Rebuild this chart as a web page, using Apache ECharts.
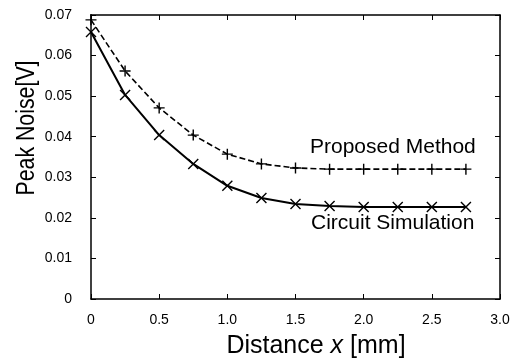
<!DOCTYPE html>
<html>
<head>
<meta charset="utf-8">
<script src="https://cdn.jsdelivr.net/npm/echarts@6/dist/echarts.min.js"></script>
<style>
  html, body { margin: 0; padding: 0; background: #fff; }
  #chart { width: 513px; height: 361px; }
</style>
</head>
<body>
<div id="chart"></div>
<script>
// distance x [mm]
const distance = [0, 0.25, 0.5, 0.75, 1.0, 1.25, 1.5, 1.75, 2.0, 2.25, 2.5, 2.75];
// peak noise [V]
const proposed = [0.0688, 0.0562, 0.0471, 0.0404, 0.0357, 0.0333, 0.0323, 0.0320, 0.0320, 0.0320, 0.0320, 0.0320];
const circuit = [0.0658, 0.0503, 0.0404, 0.0333, 0.0279, 0.0249, 0.0234, 0.0229, 0.0227, 0.0227, 0.0227, 0.0227];

const FONT = 'Liberation Sans, Arial, sans-serif';
const PLUS = 'path://M0,5L10,5M5,0L5,10';
const CROSS = 'path://M0,0L10,10M0,10L10,0';

function pairs(ys) {
    return distance.map(function (x, i) { return [x, ys[i]]; });
}

let axisLine = { onZero: false, lineStyle: { color: '#000', width: 1.5 } };
let axisTick = { inside: true, length: 5, lineStyle: { color: '#000', width: 1 } };

let option = {
    animation: false,
    backgroundColor: '#fff',
    grid: { left: 91, right: 13, top: 15, bottom: 62 },
    xAxis: [
        {
            type: 'value', min: 0, max: 3, interval: 0.5,
            axisLine: axisLine, axisTick: axisTick, splitLine: { show: false },
            axisLabel: {
                color: '#000', fontSize: 14, fontFamily: FONT, margin: 14,
                formatter: function (v) { return v === 0 ? '0' : v.toFixed(1); }
            }
        },
        {
            type: 'value', position: 'top', min: 0, max: 3, interval: 0.5,
            axisLine: axisLine, axisTick: axisTick, splitLine: { show: false },
            axisLabel: { show: false }
        }
    ],
    yAxis: [
        {
            type: 'value', min: 0, max: 0.07, interval: 0.01,
            axisLine: axisLine, axisTick: axisTick, splitLine: { show: false },
            axisLabel: {
                color: '#000', fontSize: 14, fontFamily: FONT, margin: 19,
                formatter: function (v) { return v === 0 ? '0' : v.toFixed(2); }
            }
        },
        {
            type: 'value', position: 'right', min: 0, max: 0.07, interval: 0.01,
            axisLine: axisLine, axisTick: axisTick, splitLine: { show: false },
            axisLabel: { show: false }
        }
    ],
    series: [
        {
            name: 'Proposed Method',
            type: 'line',
            data: pairs(proposed),
            symbol: PLUS,
            symbolSize: 11,
            lineStyle: { color: '#000', width: 1.6, type: [6, 3] },
            itemStyle: { color: '#000', borderColor: '#000', borderWidth: 1.4 }
        },
        {
            name: 'Circuit Simulation',
            type: 'line',
            data: pairs(circuit),
            symbol: CROSS,
            symbolSize: 10,
            lineStyle: { color: '#000', width: 2 },
            itemStyle: { color: '#000', borderColor: '#000', borderWidth: 1.4 }
        }
    ],
    graphic: [
        {
            type: 'text', left: 310, top: 137,
            style: { text: 'Proposed Method', fontSize: 21, fontFamily: FONT, fill: '#000' }
        },
        {
            type: 'text', left: 311, top: 213,
            style: { text: 'Circuit Simulation', fontSize: 21, fontFamily: FONT, fill: '#000' }
        },
        {
            type: 'text', x: 316, y: 346,
            style: {
                text: 'Distance {i|x} [mm]',
                fontSize: 25, fontFamily: FONT, fill: '#000',
                align: 'center', verticalAlign: 'middle',
                rich: { i: { fontSize: 25, fontFamily: FONT, fontStyle: 'italic', fill: '#000' } }
            }
        },
        {
            type: 'text', x: 27, y: 128, rotation: Math.PI / 2, scaleX: 0.82,
            style: {
                text: 'Peak Noise[V]', fontSize: 26, fontFamily: FONT, fill: '#000',
                align: 'center', verticalAlign: 'middle'
            }
        }
    ]
};

let myChart = echarts.init(document.getElementById('chart'));
myChart.setOption(option, true);
window.addEventListener('resize', function () {
    myChart.resize();
});
</script>
</body>
</html>
